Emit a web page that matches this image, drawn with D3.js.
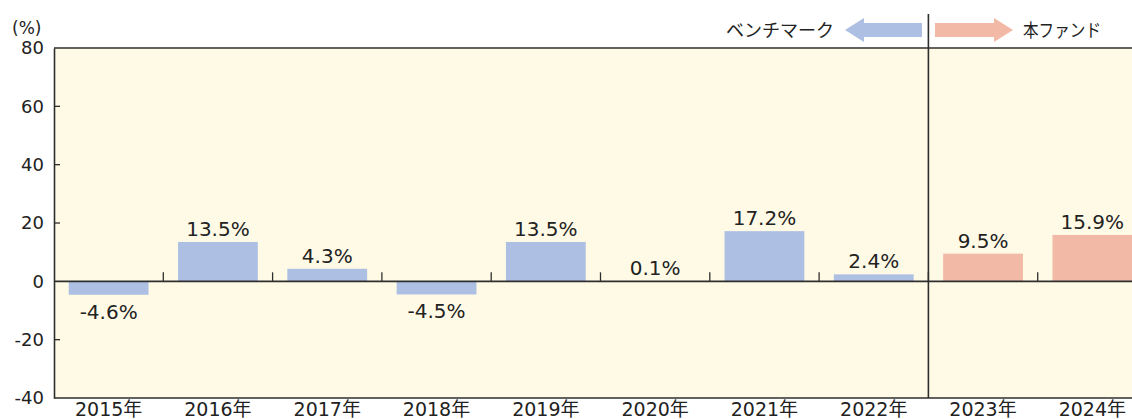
<!DOCTYPE html>
<html>
<head>
<meta charset="utf-8">
<script src="https://cdn.jsdelivr.net/npm/d3@7"></script>
<style>
  html, body { margin: 0; padding: 0; background: #ffffff; }
  svg { display: block; }
  text { font-family: "DejaVu Sans", "Noto Sans CJK JP", sans-serif; fill: #222; }
  .jp { font-family: "Noto Sans CJK JP", sans-serif; }
</style>
</head>
<body>
<script>
// ---- data ----
const categories = ["2015年", "2016年", "2017年", "2018年", "2019年", "2020年", "2021年", "2022年", "2023年", "2024年"];
const values = [-4.6, 13.5, 4.3, -4.5, 13.5, 0.1, 17.2, 2.4, 9.5, 15.9];
const groups = ["bench", "bench", "bench", "bench", "bench", "bench", "bench", "bench", "fund", "fund"];
const valueLabels = ["-4.6%", "13.5%", "4.3%", "-4.5%", "13.5%", "0.1%", "17.2%", "2.4%", "9.5%", "15.9%"];
const yTicks = [-40, -20, 0, 20, 40, 60, 80];
const legendLabels = { bench: "ベンチマーク", fund: "本ファンド" };

(function () {
const W = 1132, H = 419;
const colors = { bench: "#adbfe3", fund: "#f2b9a6" };
const axisColor = "#2e2e2e";

const svg = d3.select("body").append("svg").attr("width", W).attr("height", H);

const pLeft = 54, pTop = 48, pBottom = 398;
const step = 109.3;
const x = d3.scaleBand().domain(categories).range([pLeft, pLeft + step * categories.length])
  .paddingInner(0.27).paddingOuter(0.135);
const y = d3.scaleLinear().domain([-40, 80]).range([pBottom, pTop]);

// plot background
svg.append("rect").attr("x", pLeft).attr("y", pTop).attr("width", W - pLeft).attr("height", pBottom - pTop)
  .attr("fill", "#fffae6");

// bars
const data = categories.map((c, i) => ({ c, v: values[i], g: groups[i], l: valueLabels[i] }));
svg.selectAll("rect.bar").data(data).enter().append("rect").attr("class", "bar")
  .attr("x", d => x(d.c))
  .attr("width", x.bandwidth())
  .attr("y", d => Math.min(y(d.v), y(0)))
  .attr("height", d => Math.abs(y(d.v) - y(0)))
  .attr("fill", d => colors[d.g]);

// value labels
svg.selectAll("text.val").data(data).enter().append("text").attr("class", "val")
  .attr("x", d => x(d.c) + x.bandwidth() / 2)
  .attr("y", d => d.v >= 0 ? y(d.v) - 6 : y(d.v) + 24)
  .attr("text-anchor", "middle")
  .attr("font-size", 20)
  .text(d => d.l);

// zero line and boundary ticks
svg.append("line").attr("x1", pLeft).attr("x2", W).attr("y1", y(0)).attr("y2", y(0))
  .attr("stroke", axisColor).attr("stroke-width", 1.6);
categories.slice(1).forEach((c) => {
  const bx = x(c) - x.step() * x.paddingInner() / 2;
  svg.append("line").attr("x1", bx).attr("x2", bx).attr("y1", y(0)).attr("y2", y(0) - 9)
    .attr("stroke", axisColor).attr("stroke-width", 1.3);
});

// frame
svg.append("line").attr("x1", pLeft).attr("x2", W).attr("y1", pTop).attr("y2", pTop)
  .attr("stroke", axisColor).attr("stroke-width", 1.6);
svg.append("line").attr("x1", pLeft).attr("x2", W).attr("y1", pBottom).attr("y2", pBottom)
  .attr("stroke", axisColor).attr("stroke-width", 1.6);

// y axis
const yAxis = d3.axisLeft(y).tickValues(yTicks).tickSize(0).tickPadding(10).tickFormat(d => String(d));
const gy = svg.append("g").attr("transform", `translate(${pLeft},0)`).call(yAxis);
gy.select(".domain").attr("stroke", axisColor).attr("stroke-width", 1.6);
gy.selectAll("text").attr("font-size", 18).attr("fill", "#222")
  .style("font-family", "DejaVu Sans, sans-serif");
yTicks.filter(t => t !== 0 && t !== 80 && t !== -40).forEach(t => {
  svg.append("line").attr("x1", pLeft).attr("x2", pLeft + 6).attr("y1", y(t)).attr("y2", y(t))
    .attr("stroke", axisColor).attr("stroke-width", 1.3);
});
svg.append("text").attr("x", 12).attr("y", 34).attr("font-size", 17).text("(%)");

// x labels
svg.selectAll("text.xl").data(categories).enter().append("text").attr("class", "xl")
  .attr("x", d => x(d) + x.bandwidth() / 2)
  .attr("y", 416)
  .attr("text-anchor", "middle")
  .attr("font-size", 19)
  .text(d => d);

// divider between benchmark and fund
const divX = x(categories[8]) - x.step() * x.paddingInner() / 2;
svg.append("line").attr("x1", divX).attr("x2", divX).attr("y1", 14).attr("y2", pBottom)
  .attr("stroke", axisColor).attr("stroke-width", 1.6);

// legend arrows
const ay = 30;
const lArrow = [[845, ay], [864, ay - 12], [864, ay - 7], [922, ay - 7], [922, ay + 7], [864, ay + 7], [864, ay + 12]];
const rArrow = [[1013, ay], [994, ay - 12], [994, ay - 7], [935, ay - 7], [935, ay + 7], [994, ay + 7], [994, ay + 12]];
svg.append("polygon").attr("points", lArrow.map(p => p.join(",")).join(" ")).attr("fill", colors.bench);
svg.append("polygon").attr("points", rArrow.map(p => p.join(",")).join(" ")).attr("fill", colors.fund);
svg.append("text").attr("class", "jp").attr("x", 834).attr("y", 37).attr("text-anchor", "end")
  .attr("font-size", 18).text(legendLabels.bench);
svg.append("text").attr("class", "jp").attr("x", 1023).attr("y", 37)
  .attr("font-size", 18).attr("textLength", 78).attr("lengthAdjust", "spacingAndGlyphs").text(legendLabels.fund);
})();
</script>
</body>
</html>
